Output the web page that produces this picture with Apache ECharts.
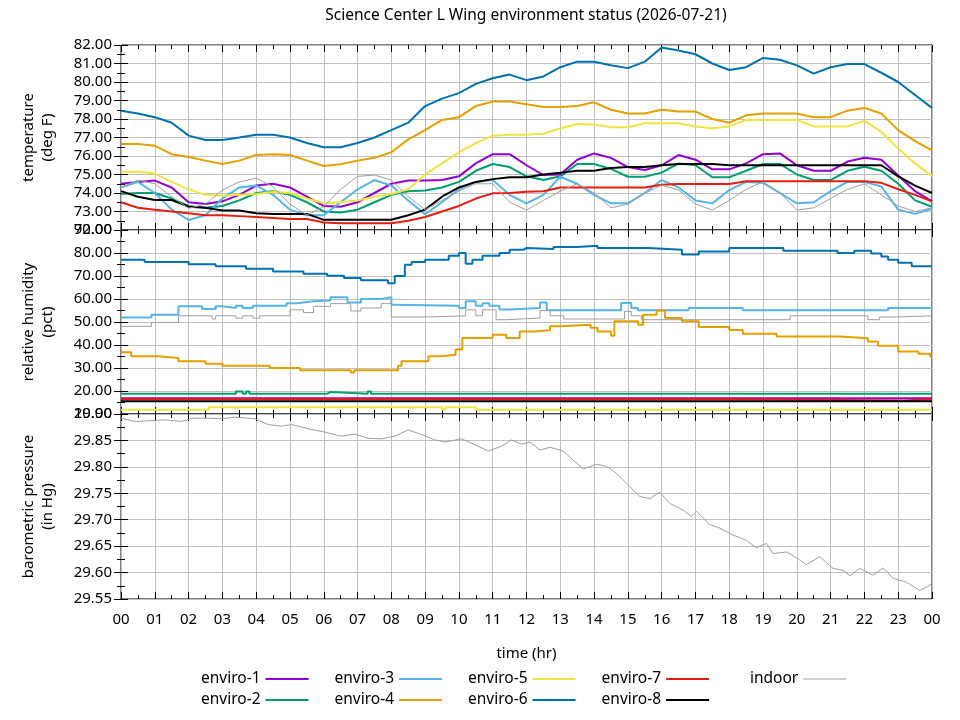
<!DOCTYPE html>
<html>
<head>
<meta charset="utf-8">
<title>Science Center L Wing environment status</title>
<script src="https://cdn.jsdelivr.net/npm/echarts@6/dist/echarts.min.js"></script>
<style>
  html, body { margin: 0; padding: 0; background: #fff; }
  #chart { width: 960px; height: 720px; }
</style>
</head>
<body>
<div id="chart"></div>
<script>
// sample times (hr) for the temperature traces
var hours = [0, 0.5, 1, 1.5, 2, 2.5, 3, 3.5, 4, 4.5, 5, 5.5, 6, 6.5, 7, 7.5, 8, 8.5, 9, 9.5, 10, 10.5, 11, 11.5,
  12, 12.5, 13, 13.5, 14, 14.5, 15, 15.5, 16, 16.5, 17, 17.5, 18, 18.5, 19, 19.5, 20, 20.5, 21, 21.5, 22, 22.5, 23, 23.5, 24]

var names = ['enviro-1', 'enviro-2', 'enviro-3', 'enviro-4', 'enviro-5', 'enviro-6', 'enviro-7', 'enviro-8', 'indoor']
var colors = ['#9400d3', '#009e73', '#56b4e9', '#e69f00', '#f0e442', '#0072b2', '#e51e10', '#000000', '#a0a0a0']

// temperature (deg F), one value per entry of hours
var tempE1 = [74.5, 74.6, 74.67, 74.3, 73.5, 73.4, 73.55, 73.9, 74.4, 74.5, 74.3, 73.8, 73.3, 73.26, 73.5, 74.0, 74.5, 74.67, 74.67, 74.7, 74.9, 75.6, 76.1, 76.1,
  75.5, 74.97, 75.0, 75.8, 76.14, 75.9, 75.4, 75.24, 75.5, 76.05, 75.8, 75.28, 75.28, 75.6, 76.1, 76.14, 75.5, 75.2, 75.2, 75.7, 75.9, 75.8, 74.95, 74.1, 73.55]
var tempE2 = [73.95, 74.0, 74.0, 73.7, 73.3, 73.2, 73.3, 73.6, 74.0, 74.1, 73.9, 73.5, 73.0, 72.95, 73.1, 73.5, 73.9, 74.1, 74.13, 74.3, 74.6, 75.2, 75.57, 75.4,
  74.9, 74.7, 74.9, 75.57, 75.57, 75.3, 74.88, 74.88, 75.1, 75.6, 75.5, 74.85, 74.85, 75.2, 75.57, 75.57, 75.0, 74.7, 74.7, 75.2, 75.42, 75.2, 74.5, 73.6, 73.26]
var tempE3 = [74.3, 74.6, 74.0, 73.1, 72.54, 72.8, 73.7, 74.3, 74.4, 73.9, 73.1, 72.8, 72.8, 73.5, 74.2, 74.7, 74.4, 73.6, 72.85, 73.5, 74.2, 74.6, 74.7, 73.9,
  73.44, 73.9, 74.88, 74.5, 73.9, 73.44, 73.44, 74.0, 74.7, 74.3, 73.6, 73.44, 74.16, 74.6, 74.55, 74.0, 73.44, 73.5, 74.1, 74.6, 74.6, 74.35, 73.1, 72.87, 73.15]
var tempE4 = [76.65, 76.65, 76.55, 76.1, 75.95, 75.75, 75.57, 75.75, 76.05, 76.1, 76.05, 75.75, 75.46, 75.55, 75.75, 75.9, 76.2, 76.9, 77.4, 77.95, 78.1, 78.7, 78.94, 78.94,
  78.8, 78.65, 78.65, 78.7, 78.9, 78.5, 78.3, 78.3, 78.5, 78.4, 78.4, 78.0, 77.8, 78.2, 78.3, 78.3, 78.3, 78.1, 78.1, 78.45, 78.6, 78.3, 77.4, 76.8, 76.3]
var tempE5 = [75.15, 75.15, 75.05, 74.6, 74.2, 73.9, 73.85, 73.9, 73.95, 74.05, 74.0, 73.7, 73.45, 73.5, 73.6, 73.8, 73.95, 74.2, 75.0, 75.6, 76.2, 76.7, 77.1, 77.15,
  77.15, 77.2, 77.5, 77.73, 77.7, 77.56, 77.55, 77.77, 77.77, 77.77, 77.6, 77.5, 77.6, 77.95, 77.95, 77.95, 77.95, 77.6, 77.6, 77.6, 77.9, 77.3, 76.4, 75.6, 74.9]
var tempE6 = [78.45, 78.3, 78.1, 77.8, 77.1, 76.86, 76.86, 77.0, 77.15, 77.15, 77.0, 76.7, 76.47, 76.47, 76.7, 77.0, 77.4, 77.8, 78.7, 79.1, 79.4, 79.9, 80.2, 80.4,
  80.1, 80.3, 80.8, 81.1, 81.1, 80.9, 80.75, 81.1, 81.87, 81.7, 81.5, 81.0, 80.65, 80.8, 81.3, 81.2, 80.9, 80.45, 80.8, 80.97, 80.97, 80.5, 80.0, 79.3, 78.6]
var tempE7 = [73.5, 73.2, 73.1, 73.0, 72.9, 72.8, 72.8, 72.75, 72.7, 72.65, 72.6, 72.6, 72.4, 72.36, 72.36, 72.36, 72.36, 72.5, 72.7, 73.0, 73.3, 73.7, 73.98, 74.0,
  74.07, 74.1, 74.3, 74.3, 74.3, 74.3, 74.3, 74.3, 74.45, 74.49, 74.49, 74.49, 74.49, 74.63, 74.63, 74.63, 74.63, 74.63, 74.63, 74.63, 74.63, 74.55, 74.2, 73.9, 73.55]
var tempE8 = [74.1, 73.8, 73.62, 73.62, 73.26, 73.2, 73.05, 73.05, 72.9, 72.87, 72.87, 72.87, 72.55, 72.55, 72.55, 72.55, 72.55, 72.8, 73.1, 73.8, 74.3, 74.6, 74.75, 74.85,
  74.85, 75.0, 75.1, 75.2, 75.2, 75.35, 75.4, 75.4, 75.5, 75.57, 75.57, 75.57, 75.5, 75.5, 75.5, 75.5, 75.5, 75.5, 75.5, 75.5, 75.5, 75.5, 74.9, 74.4, 74.0]
var tempIn = [74.3, 74.7, 74.5, 73.8, 73.17, 73.4, 74.16, 74.6, 74.8, 74.34, 73.4, 72.8, 73.26, 74.2, 74.9, 74.97, 74.7, 73.8, 73.1, 73.6, 74.1, 74.5, 74.5, 73.5,
  73.08, 73.6, 74.1, 74.5, 74.0, 73.2, 73.4, 73.98, 74.43, 74.16, 73.4, 73.08, 73.6, 74.2, 74.6, 74.0, 73.08, 73.2, 73.7, 74.2, 74.5, 73.9, 73.3, 73.0, 73.2]

// relative humidity (pct), [hour, value] at each change
var humE1 = [[0, 16.9], [24, 16.9]]
var humE2 = [[0, 18.8], [3.4, 19.8], [3.6, 18.8], [3.7, 19.8], [3.8, 18.8], [6.1, 19.6], [6.2, 18.8], [7.3, 19.8], [7.4, 18.8], [24, 18.8]]
var humE3 = [[0, 52.0], [0.9, 53.2], [1.7, 56.8], [2.4, 55.6], [2.8, 56.8], [3.0, 56.1], [3.4, 57.1], [3.6, 56.1], [3.9, 57.1], [4.9, 58.2], [5.2, 59.0],
  [5.7, 59.4], [6.2, 60.8], [6.7, 58.5], [7.1, 60.0], [7.7, 60.8], [8.0, 57.5], [8.1, 57.1], [10.0, 56.1], [10.2, 59.0], [10.5, 57.1], [10.7, 58.2],
  [10.9, 57.1], [11.2, 55.4], [11.5, 56.1], [12.4, 58.5], [12.6, 55.1], [14.8, 58.3], [15.1, 56.1], [15.3, 55.1], [16.8, 56.1], [18.4, 55.1],
  [19.7, 55.1], [22.7, 56.1], [24, 56.1]]
var humE4 = [[0, 36.9], [0.3, 35.1], [1.1, 34.3], [1.7, 32.9], [2.5, 31.9], [3.0, 31.0], [4.4, 30.0], [5.3, 29.0], [6.8, 28.0], [6.9, 29.0], [8.2, 31.0],
  [8.3, 32.9], [9.1, 35.1], [9.5, 35.8], [9.9, 38.0], [10.1, 43.0], [11.0, 44.5], [11.4, 43.0], [11.8, 45.9], [12.2, 46.4], [12.7, 48.1], [13.0, 48.8],
  [13.9, 47.5], [14.1, 45.9], [14.5, 44.0], [14.6, 50.3], [15.3, 48.8], [15.45, 53.2], [15.85, 55.0], [16.1, 51.7], [16.6, 50.3], [17.1, 47.8],
  [18.0, 46.5], [18.4, 44.9], [19.4, 43.7], [21.3, 42.9], [22.1, 41.5], [22.4, 39.7], [23.0, 37.2], [23.6, 36.2], [23.95, 35.0], [24, 35.0]]
var humE5 = [[0, 11.9], [2.6, 12.9], [9.5, 12.0], [9.6, 12.9], [10.5, 11.9], [24, 11.9]]
var humE6 = [[0, 77.1], [0.7, 76.1], [2.0, 75.1], [2.8, 74.2], [3.7, 73.2], [4.5, 72.0], [5.4, 71.0], [6.1, 70.1], [6.6, 69.1], [7.1, 68.1], [7.9, 66.9],
  [8.1, 70.0], [8.4, 74.9], [8.6, 76.1], [9.0, 77.1], [9.7, 78.8], [10.0, 80.0], [10.2, 75.3], [10.4, 77.1], [10.7, 78.8], [11.2, 80.0], [11.5, 81.4],
  [11.9, 82.2], [12.0, 81.7], [12.8, 82.6], [13.5, 83.2], [14.1, 82.2], [15.6, 81.4], [16.6, 79.3], [17.1, 80.7], [18.0, 82.2], [19.6, 81.0],
  [21.2, 80.0], [21.7, 81.0], [22.2, 79.8], [22.5, 78.5], [22.7, 77.1], [23.0, 75.8], [23.4, 74.2], [24, 74.2]]
var humE7 = [[0, 16.4], [18.2, 15.9], [23.2, 16.4], [24, 16.4]]
var humE8 = [[0, 15.5], [24, 15.4]]
var humIn = [[0, 48.1], [0.9, 49.8], [1.7, 52.7], [2.7, 51.3], [2.8, 52.7], [3.4, 51.7], [3.6, 52.7], [3.9, 51.7], [4.1, 52.7], [5.0, 55.3], [5.4, 54.1],
  [5.7, 56.8], [6.2, 58.0], [6.8, 54.8], [7.1, 56.1], [7.7, 58.0], [8.0, 52.2], [9.1, 52.7], [10.2, 55.3], [10.5, 52.7], [10.7, 55.3], [11.1, 51.0],
  [11.4, 51.7], [12.4, 55.0], [12.7, 52.7], [13.1, 51.3], [14.9, 54.6], [15.1, 52.7], [15.4, 51.0], [19.8, 52.7], [22.1, 51.0], [22.45, 52.2],
  [23.05, 52.7], [24, 52.7]]

// barometric pressure (in Hg), indoor only
var pressIn = [[0, 29.892], [0.41, 29.886], [0.81, 29.887], [1.3, 29.889], [1.8, 29.886], [2.1, 29.892], [2.6, 29.892], [2.98, 29.891], [3.37, 29.894],
  [3.96, 29.891], [4.36, 29.880], [4.75, 29.877], [5.05, 29.880], [5.54, 29.872], [5.94, 29.867], [6.53, 29.858], [6.92, 29.862], [7.32, 29.854],
  [7.71, 29.853], [8.1, 29.858], [8.5, 29.870], [8.9, 29.861], [9.29, 29.851], [9.59, 29.847], [10.08, 29.853], [10.47, 29.842], [10.87, 29.830],
  [11.26, 29.839], [11.56, 29.851], [11.85, 29.843], [12.1, 29.847], [12.4, 29.832], [12.7, 29.837], [13.08, 29.830], [13.38, 29.813], [13.68, 29.796],
  [14.07, 29.805], [14.37, 29.801], [14.66, 29.788], [14.96, 29.769], [15.35, 29.744], [15.65, 29.740], [15.94, 29.752], [16.24, 29.731],
  [16.64, 29.718], [16.88, 29.706], [17.03, 29.716], [17.42, 29.691], [17.72, 29.684], [18.11, 29.671], [18.51, 29.661], [18.8, 29.647],
  [19.1, 29.655], [19.3, 29.636], [19.69, 29.639], [19.99, 29.628], [20.28, 29.615], [20.68, 29.630], [21.07, 29.608], [21.37, 29.604],
  [21.57, 29.594], [21.86, 29.608], [22.26, 29.595], [22.55, 29.609], [22.85, 29.589], [23.24, 29.582], [23.64, 29.566], [23.93, 29.576], [24, 29.58]]

var tempSets = [tempE1, tempE2, tempE3, tempE4, tempE5, tempE6, tempE7, tempE8, tempIn]
var humSets = [humE1, humE2, humE3, humE4, humE5, humE6, humE7, humE8, humIn]

var FONT = 'Noto Sans'
var gridColor = '#c0c0c0'

var myChart = echarts.init(document.getElementById('chart'), null, { renderer: 'canvas' })

function pad2 (v) {
  var h = Math.round(v) % 24
  return (h < 10 ? '0' : '') + h
}

var tickStyle = { show: true, inside: true, length: 7, lineStyle: { color: '#000' } }
var minorStyle = { show: true, splitNumber: 2, length: 4, lineStyle: { color: '#000' } }

// bottom x axis: grid lines, inward ticks, labels only on the lowest panel
function makeX (gi, showLabel) {
  return {
    type: 'value', gridIndex: gi, min: 0, max: 24, interval: 1,
    name: showLabel ? 'time (hr)' : '', nameLocation: 'middle', nameGap: 47,
    nameTextStyle: { fontFamily: FONT, fontSize: 15, color: '#000' },
    axisLine: { show: false }, axisTick: tickStyle, minorTick: minorStyle,
    axisLabel: { show: showLabel, margin: 13, fontFamily: FONT, fontSize: 15, color: '#000', formatter: pad2 },
    splitLine: { show: true, lineStyle: { color: gridColor, width: 1 } }
  }
}
// top x axis: just mirrors the ticks
function makeXTop (gi) {
  return {
    type: 'value', gridIndex: gi, position: 'top', min: 0, max: 24, interval: 1,
    axisLine: { show: false }, axisTick: tickStyle, minorTick: minorStyle,
    axisLabel: { show: false }, splitLine: { show: false }
  }
}
function makeY (gi, min, max, interval, name, right) {
  return {
    type: 'value', gridIndex: gi, min: min, max: max, interval: interval,
    position: right ? 'right' : 'left',
    name: right ? '' : name, nameLocation: 'middle', nameGap: 64, nameRotate: 90,
    nameTextStyle: { fontFamily: FONT, fontSize: 15, color: '#000', lineHeight: 19 },
    axisLine: { show: false }, axisTick: tickStyle, minorTick: minorStyle,
    axisLabel: {
      show: !right, margin: 9, fontFamily: FONT, fontSize: 15, color: '#000',
      showMinLabel: true, showMaxLabel: true,
      formatter: function (v) { return v.toFixed(2) }
    },
    splitLine: { show: !right, lineStyle: { color: gridColor, width: 1 } }
  }
}

var series = []
// temperature panel
tempSets.forEach(function (arr, i) {
  series.push({
    name: names[i], type: 'line', xAxisIndex: 0, yAxisIndex: 0,
    data: hours.map(function (h, k) { return [h, arr[k]] }),
    showSymbol: false, symbol: 'none',
    lineStyle: { color: colors[i], width: i === 8 ? 1 : 2 },
    itemStyle: { color: colors[i] }, z: 2 + i
  })
})
// humidity panel
humSets.forEach(function (arr, i) {
  series.push({
    name: names[i], type: 'line', xAxisIndex: 2, yAxisIndex: 2, step: 'end',
    data: arr, showSymbol: false, symbol: 'none',
    lineStyle: { color: colors[i], width: i === 8 ? 1 : 2 },
    itemStyle: { color: colors[i] }, z: 2 + i
  })
})
// pressure panel
series.push({
  name: 'indoor', type: 'line', xAxisIndex: 4, yAxisIndex: 4,
  data: pressIn, showSymbol: false, symbol: 'none',
  lineStyle: { color: colors[8], width: 1 }, itemStyle: { color: colors[8] }, z: 10
})

var legendBase = {
  orient: 'horizontal', icon: 'rect', align: 'right', padding: 0,
  itemWidth: 43, itemHeight: 2, itemGap: 26,
  selectedMode: false,
  textStyle: { fontFamily: FONT, fontSize: 15.5, color: '#000' }
}

var gridBase = { left: 121, right: 28, show: true, borderColor: '#000', borderWidth: 1, backgroundColor: 'transparent' }

var option = {
  animation: false,
  backgroundColor: '#fff',
  title: {
    text: 'Science Center L Wing environment status (2026-07-21)',
    left: 521, top: 3, textAlign: 'center',
    textStyle: { fontFamily: FONT, fontSize: 15.5, fontWeight: 'normal', color: '#000' }
  },
  legend: [
    Object.assign({}, legendBase, { left: 201, top: 671, data: ['enviro-1', 'enviro-3', 'enviro-5', 'enviro-7'] }),
    Object.assign({}, legendBase, { left: 201, top: 692, data: ['enviro-2', 'enviro-4', 'enviro-6', 'enviro-8'] }),
    Object.assign({}, legendBase, { left: 750, top: 671, itemHeight: 1, data: ['indoor'] })
  ],
  grid: [
    Object.assign({}, gridBase, { top: 45, height: 185 }),
    Object.assign({}, gridBase, { top: 230, height: 184 }),
    Object.assign({}, gridBase, { top: 414, height: 185 })
  ],
  xAxis: [makeX(0, false), makeXTop(0), makeX(1, false), makeXTop(1), makeX(2, true), makeXTop(2)],
  yAxis: [
    makeY(0, 72, 82, 1, 'temperature\n(deg F)', false), makeY(0, 72, 82, 1, '', true),
    makeY(1, 10, 90, 10, 'relative humidity\n(pct)', false), makeY(1, 10, 90, 10, '', true),
    makeY(2, 29.55, 29.9, 0.05, 'barometric pressure\n(in Hg)', false), makeY(2, 29.55, 29.9, 0.05, '', true)
  ],
  series: series
}

myChart.setOption(option, true)
window.addEventListener('resize', function () {
  myChart.resize()
})
</script>
</body>
</html>
